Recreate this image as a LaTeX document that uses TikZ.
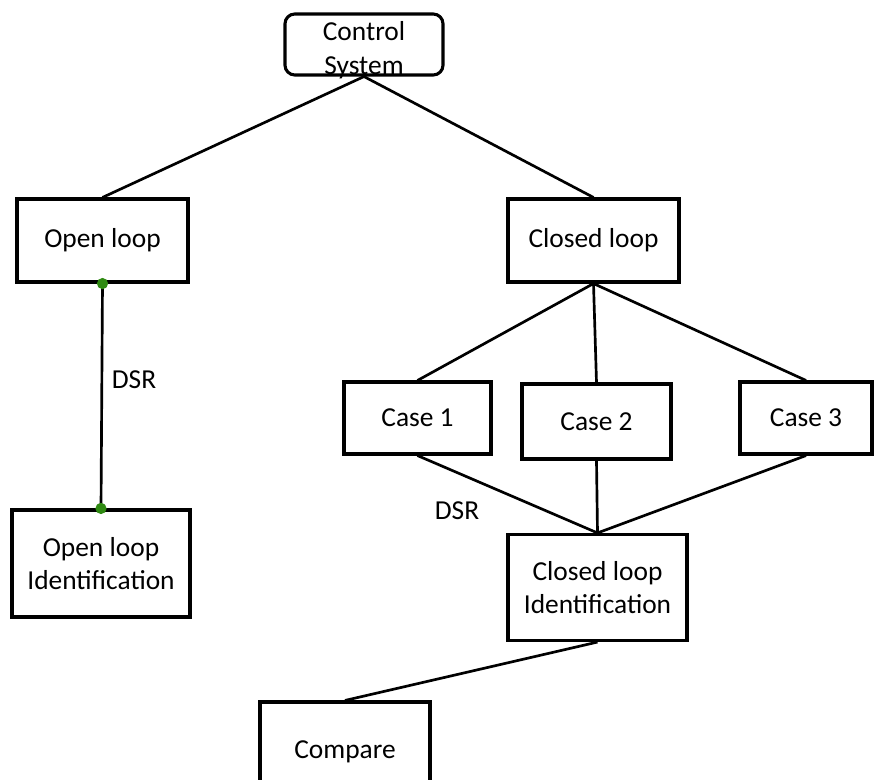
\documentclass[tikz,border=0pt]{standalone}
\usepackage{fontspec}
\setmainfont{Carlito}
\usepackage{xcolor}
\usetikzlibrary{calc}
\definecolor{dotgreen}{HTML}{2F8A12}

\begin{document}
\begin{tikzpicture}[x=0.025cm,y=-0.025cm,
  box/.style={draw,line width=2.2pt,fill=white,inner sep=0pt,align=center,font=\fontsize{19.5}{23.6}\selectfont},
  link/.style={line width=1.9pt},
  lbl/.style={font=\fontsize{19.5}{23.6}\selectfont},
  gdot/.style={circle,fill=dotgreen,inner sep=0pt,minimum size=8pt}]

\useasboundingbox (0,0) rectangle (874,780);

% top level
\node[box,rounded corners=7pt,minimum width=3.95cm,minimum height=1.525cm,
  label={[lbl,align=center,yshift=-4pt]center:Control\\System}] (ctrl) at (364,44.5) {};

\node[box,minimum width=4.275cm,minimum height=2.075cm] (open) at (102.5,240.5) {Open loop};
\node[box,minimum width=4.275cm,minimum height=2.075cm] (closed) at (593.5,240.5) {Closed loop};

% the three cases
\node[box,minimum width=3.675cm,minimum height=1.8cm] (case1) at (417.5,418) {Case 1};
\node[box,minimum width=3.725cm,minimum height=1.875cm] (case2) at (596.5,421.5) {Case 2};
\node[box,minimum width=3.3cm,minimum height=1.8cm] (case3) at (806,418) {Case 3};

% identification
\node[box,minimum width=4.45cm,minimum height=2.675cm] (oli) at (101,563.5) {Open loop\\Identification};
\node[box,minimum width=4.475cm,minimum height=2.65cm] (cli) at (597.5,587.5) {Closed loop\\Identification};

\node[box,minimum width=4.25cm,minimum height=2.5cm] (cmp) at (345,752) {Compare};

\draw[link] (ctrl.south) -- (open.north);
\draw[link] (ctrl.south) -- (closed.north);

\draw[link] (closed.south) -- (case1.north);
\draw[link] (closed.south) -- (case2.north);
\draw[link] (closed.south) -- (case3.north);

\draw[link] (case1.south) -- (cli.north);
\draw[link] (case2.south) -- (cli.north);
\draw[link] (case3.south) -- (cli.north);

\draw[link] (cli.south) -- (cmp.north);

\draw[link] (open.south) -- (oli.north);
\node[gdot] (d1) at (open.south) {};
\node[gdot] (d2) at (oli.north) {};

\node[lbl] (dsr1) at (134,380) {DSR};
\node[lbl] (dsr2) at (457,511) {DSR};

\end{tikzpicture}
\end{document}
